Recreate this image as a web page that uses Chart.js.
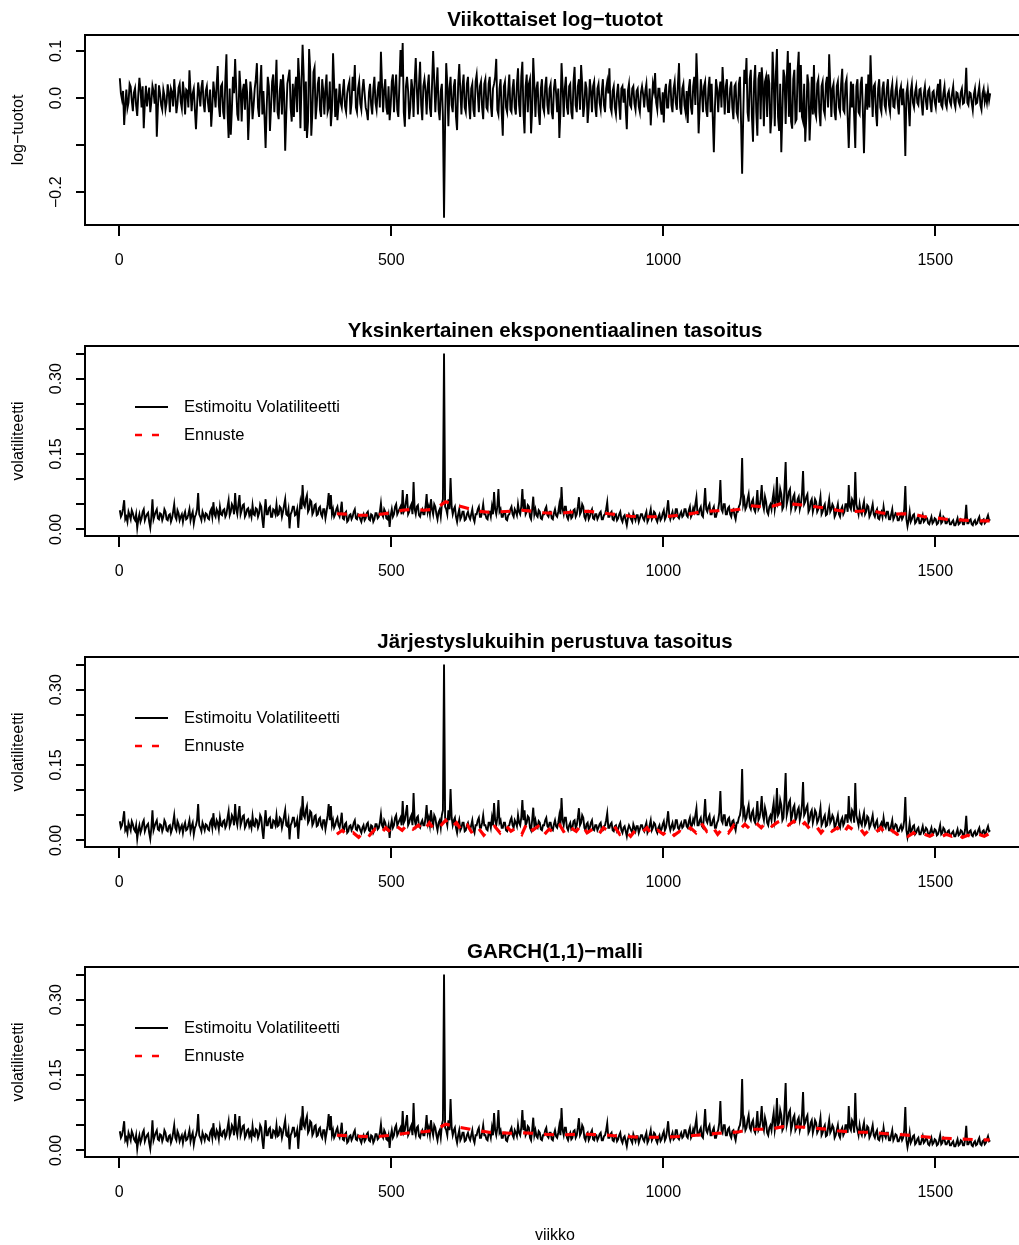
<!DOCTYPE html>
<html><head><meta charset="utf-8">
<script src="https://cdn.jsdelivr.net/npm/chart.js@4/dist/chart.umd.min.js"></script>
<style>
html,body{margin:0;padding:0;background:#fff;overflow:hidden;width:1019px;height:1245px;}
.p{position:absolute;left:0;}
canvas{display:block;}
</style></head><body>
<div class="p" style="top:0px"><canvas id="c1" width="1030" height="311" style="width:1030px;height:311px"></canvas></div>
<div class="p" style="top:311px"><canvas id="c2" width="1030" height="311" style="width:1030px;height:311px"></canvas></div>
<div class="p" style="top:622px"><canvas id="c3" width="1030" height="311" style="width:1030px;height:311px"></canvas></div>
<div class="p" style="top:932px"><canvas id="c4" width="1030" height="313" style="width:1030px;height:313px"></canvas></div>
<script>
// ---------- data (one value every 2 weeks) ----------
const WEEK_START = 1;
const WEEK_STEP = 2;
const logReturns = [
 0.042,0.010,-0.003,0.015,-0.057,-0.015,0.018,-0.022,-0.010,0.030,0.024,-0.005,-0.028,0.012,0.021,-0.016,-0.038,0.008,0.043,0.018,-0.020,0.025,-0.064,-0.010,0.026,-0.018,0.005,0.022,-0.030,-0.008,0.026,0.014,-0.012,0.030,-0.082,-0.020,0.027,0.010,-0.015,-0.025,
 0.018,0.005,-0.025,-0.010,0.029,0.012,-0.030,0.020,0.012,-0.018,0.040,0.008,-0.032,-0.012,0.022,0.030,-0.008,-0.022,0.035,0.010,-0.035,0.018,0.015,-0.020,0.059,0.015,-0.028,0.010,0.020,-0.025,-0.066,-0.015,0.033,0.012,-0.018,0.022,0.038,-0.012,-0.030,0.015,
 0.025,-0.010,-0.030,0.018,-0.061,-0.020,0.035,0.010,-0.020,0.028,0.068,-0.015,-0.040,0.025,0.030,-0.030,-0.045,0.040,0.093,-0.030,-0.085,0.020,-0.078,-0.025,0.045,0.010,0.083,0.020,-0.035,-0.048,0.058,0.020,-0.050,0.015,0.030,-0.025,0.040,0.012,-0.089,-0.030,
 0.035,0.010,-0.045,-0.015,0.020,0.040,0.074,-0.020,-0.040,0.025,0.070,-0.035,0.015,-0.040,-0.106,-0.020,0.045,0.025,-0.070,-0.020,0.035,0.050,-0.030,0.020,0.081,-0.030,-0.045,0.015,0.040,-0.035,0.050,0.010,-0.112,-0.035,0.030,0.045,0.060,-0.020,-0.050,0.030,
 -0.040,0.020,0.045,-0.030,0.085,0.040,-0.064,0.030,0.113,0.050,-0.070,0.035,-0.085,-0.050,0.104,0.060,-0.080,-0.030,0.055,0.065,-0.045,-0.015,0.030,0.045,-0.025,-0.040,0.040,0.015,-0.035,0.020,0.050,-0.030,-0.020,0.035,-0.060,-0.025,0.095,0.030,-0.040,0.020,
 -0.047,-0.015,0.030,-0.010,-0.020,0.015,0.040,-0.018,-0.030,0.010,0.025,0.035,-0.035,-0.010,0.045,0.015,0.070,-0.020,-0.030,0.020,0.035,-0.012,-0.025,0.018,0.040,0.010,-0.020,-0.030,-0.047,0.012,0.030,-0.015,-0.035,0.020,0.045,-0.010,-0.025,0.015,0.035,-0.020,
 0.098,0.030,-0.030,0.018,0.040,-0.020,-0.035,0.025,-0.047,-0.015,0.035,0.050,-0.030,0.020,0.050,-0.025,-0.040,0.030,0.102,0.045,0.117,-0.030,-0.061,0.025,0.045,0.015,-0.045,-0.020,0.040,0.020,-0.040,0.035,0.085,0.020,-0.035,0.030,0.077,-0.015,-0.047,0.025,
 0.040,0.015,-0.035,0.025,0.050,-0.020,-0.040,0.030,0.100,0.040,-0.030,0.020,0.065,-0.025,-0.047,0.015,0.030,-0.040,-0.254,-0.050,0.074,0.030,-0.060,0.020,0.045,-0.015,-0.030,0.025,0.040,-0.040,-0.068,0.030,0.072,0.015,-0.035,0.025,0.050,-0.020,-0.030,0.030,
 0.045,-0.015,-0.045,0.020,0.030,-0.025,-0.040,0.035,0.050,0.010,-0.030,0.025,0.035,-0.020,-0.045,0.030,0.040,-0.020,-0.025,0.030,0.045,-0.015,-0.040,0.020,0.030,0.045,0.083,-0.025,-0.035,0.020,0.040,-0.030,-0.080,0.025,0.035,-0.020,-0.030,0.015,0.050,-0.025,
 -0.030,0.020,0.040,-0.020,-0.035,0.030,0.063,-0.015,-0.040,0.045,0.077,-0.030,-0.075,0.025,0.050,-0.030,0.030,0.040,-0.075,-0.025,0.085,0.030,-0.040,0.020,0.035,-0.030,-0.057,0.020,0.040,-0.020,-0.030,0.025,0.045,-0.015,-0.035,0.020,0.030,-0.030,-0.045,0.020,
 0.040,0.010,-0.030,0.020,-0.085,-0.030,0.074,0.025,-0.040,0.020,0.045,-0.020,-0.035,0.025,0.030,-0.030,-0.045,0.035,0.066,-0.015,-0.030,0.025,0.040,-0.025,0.070,0.030,-0.040,-0.015,0.035,0.020,-0.053,-0.020,0.040,0.015,-0.030,0.025,0.035,-0.020,-0.040,0.020,
 0.030,-0.010,-0.025,0.015,0.040,-0.015,-0.030,0.020,0.035,0.010,0.063,-0.020,-0.030,0.015,0.025,-0.020,-0.035,0.010,0.030,-0.015,-0.046,0.020,0.025,-0.010,0.020,-0.025,-0.066,0.015,0.030,-0.015,-0.020,0.020,0.025,-0.012,-0.025,0.015,0.020,-0.018,-0.030,0.012,
 0.025,0.008,-0.020,0.015,0.030,-0.015,-0.030,0.020,-0.058,-0.010,0.030,0.015,0.053,-0.010,-0.025,0.020,0.020,-0.018,-0.035,0.012,-0.052,0.015,0.030,-0.020,-0.020,0.025,0.040,-0.015,-0.030,0.020,0.035,-0.010,-0.025,0.030,0.074,-0.020,-0.035,0.020,0.030,-0.015,
 -0.030,0.015,-0.053,0.020,0.040,-0.020,-0.035,0.025,0.045,-0.015,0.095,0.030,-0.075,-0.020,0.040,0.015,-0.030,0.025,0.035,-0.025,-0.040,0.020,0.045,-0.030,0.030,-0.040,-0.115,-0.020,0.040,0.020,-0.030,0.015,0.035,-0.020,0.066,0.020,-0.035,0.025,0.040,-0.030,
 -0.030,0.020,0.035,-0.020,-0.045,0.025,0.030,-0.030,-0.040,0.030,0.045,-0.050,-0.161,-0.040,0.060,0.030,0.085,-0.030,-0.050,0.040,0.060,-0.040,-0.093,0.035,0.070,-0.030,-0.080,0.040,0.055,-0.045,0.065,0.030,-0.060,0.035,0.045,-0.040,0.050,0.030,-0.075,-0.040,
 0.098,0.040,-0.060,0.050,0.104,-0.040,-0.070,0.030,-0.115,-0.030,0.060,0.045,-0.055,0.040,0.100,-0.040,0.075,-0.050,-0.065,0.040,0.060,-0.050,-0.045,0.060,0.098,-0.030,0.070,-0.040,-0.050,0.030,-0.093,-0.040,0.050,0.030,-0.090,-0.030,0.045,-0.035,0.070,-0.030,
 -0.040,0.030,0.040,-0.030,-0.060,0.025,0.035,-0.025,-0.035,0.030,0.045,-0.020,0.093,0.030,-0.040,0.020,0.030,-0.030,-0.047,0.025,0.035,-0.020,-0.030,0.030,0.062,-0.025,-0.030,0.030,0.040,-0.040,-0.106,-0.030,0.035,-0.020,0.030,-0.040,-0.106,0.025,0.040,-0.030,
 -0.035,0.030,0.045,-0.030,-0.117,-0.020,0.030,-0.025,0.050,-0.020,0.091,0.020,-0.040,0.025,0.030,-0.030,-0.060,0.020,0.040,-0.020,-0.030,0.020,0.035,-0.015,-0.025,0.020,0.040,-0.015,-0.030,0.015,0.030,-0.018,-0.020,0.015,0.030,-0.012,-0.035,0.015,0.025,-0.015,
 0.020,-0.020,-0.123,0.010,0.025,-0.015,-0.060,0.015,0.030,-0.010,-0.020,0.012,0.025,-0.010,-0.015,0.018,0.020,-0.012,-0.037,0.010,0.025,-0.008,-0.025,0.015,0.020,-0.010,-0.030,0.012,0.015,-0.008,-0.020,0.012,0.030,-0.010,0.040,-0.015,-0.020,0.010,0.025,-0.012,
 -0.020,0.008,0.015,-0.008,-0.015,0.010,0.025,-0.010,-0.020,0.012,0.010,-0.008,-0.015,0.012,0.020,-0.012,-0.010,0.015,0.064,-0.010,-0.015,0.012,0.010,-0.010,-0.026,0.008,0.020,-0.012,-0.010,0.010,0.025,-0.015,-0.025,0.010,0.020,-0.008,0.005,-0.010,0.015,-0.005,
 0.010
];
const volatility = [
 0.038,0.025,0.030,0.042,0.058,0.020,0.025,0.015,0.035,0.028,0.020,0.038,0.032,0.022,0.018,0.030,0.003,0.020,0.030,0.015,0.022,0.035,0.040,0.018,0.025,0.030,0.033,0.015,0.003,0.025,0.060,0.020,0.028,0.035,0.040,0.022,0.020,0.032,0.030,0.018,
 0.025,0.040,0.035,0.020,0.018,0.028,0.030,0.015,0.022,0.035,0.050,0.025,0.020,0.038,0.032,0.018,0.025,0.030,0.015,0.028,0.035,0.020,0.022,0.030,0.040,0.018,0.028,0.035,0.012,0.025,0.030,0.040,0.072,0.030,0.025,0.018,0.035,0.028,0.020,0.032,
 0.030,0.022,0.020,0.035,0.040,0.025,0.054,0.030,0.025,0.040,0.035,0.022,0.045,0.030,0.028,0.038,0.040,0.025,0.030,0.045,0.058,0.028,0.035,0.050,0.045,0.030,0.072,0.040,0.030,0.050,0.068,0.030,0.038,0.048,0.050,0.025,0.030,0.040,0.042,0.028,
 0.035,0.025,0.048,0.030,0.028,0.042,0.040,0.025,0.032,0.050,0.045,0.020,0.003,0.035,0.060,0.030,0.030,0.042,0.045,0.025,0.025,0.040,0.038,0.030,0.050,0.028,0.030,0.045,0.042,0.025,0.035,0.048,0.060,0.030,0.028,0.040,0.002,0.030,0.035,0.045,
 0.045,0.028,0.030,0.040,0.003,0.035,0.055,0.040,0.088,0.050,0.045,0.060,0.068,0.035,0.040,0.058,0.055,0.030,0.035,0.048,0.050,0.028,0.030,0.042,0.045,0.030,0.025,0.040,0.040,0.022,0.035,0.050,0.072,0.040,0.068,0.030,0.040,0.025,0.030,0.040,
 0.045,0.030,0.025,0.038,0.055,0.022,0.020,0.032,0.035,0.015,0.018,0.028,0.030,0.020,0.025,0.035,0.040,0.022,0.020,0.030,0.028,0.020,0.015,0.025,0.030,0.018,0.022,0.032,0.035,0.020,0.018,0.030,0.028,0.015,0.020,0.032,0.032,0.022,0.025,0.035,
 0.052,0.030,0.025,0.040,0.035,0.022,0.020,0.030,0.005,0.028,0.040,0.025,0.030,0.045,0.050,0.030,0.035,0.040,0.045,0.030,0.078,0.035,0.040,0.055,0.070,0.030,0.035,0.045,0.050,0.030,0.094,0.040,0.030,0.045,0.048,0.028,0.025,0.035,0.040,0.030,
 0.030,0.045,0.070,0.035,0.045,0.030,0.060,0.040,0.030,0.050,0.045,0.030,0.020,0.035,0.040,0.025,0.050,0.060,0.350,0.045,0.040,0.030,0.060,0.040,0.102,0.045,0.030,0.040,0.045,0.025,0.015,0.030,0.040,0.020,0.025,0.035,0.035,0.018,0.020,0.030,
 0.035,0.025,0.020,0.030,0.040,0.022,0.015,0.030,0.030,0.040,0.045,0.025,0.025,0.035,0.050,0.030,0.030,0.022,0.020,0.035,0.035,0.025,0.045,0.030,0.074,0.040,0.030,0.045,0.080,0.035,0.040,0.025,0.025,0.035,0.035,0.020,0.018,0.028,0.030,0.040,
 0.045,0.030,0.025,0.040,0.035,0.028,0.050,0.035,0.030,0.045,0.080,0.040,0.060,0.030,0.035,0.048,0.045,0.025,0.020,0.040,0.065,0.030,0.040,0.028,0.025,0.038,0.035,0.022,0.020,0.030,0.030,0.040,0.045,0.028,0.025,0.035,0.035,0.022,0.020,0.032,
 0.040,0.028,0.025,0.035,0.050,0.030,0.084,0.040,0.030,0.045,0.045,0.025,0.020,0.030,0.035,0.022,0.025,0.038,0.040,0.025,0.030,0.045,0.064,0.030,0.035,0.050,0.045,0.025,0.020,0.032,0.035,0.020,0.025,0.035,0.040,0.022,0.020,0.030,0.030,0.020,
 0.025,0.032,0.035,0.020,0.020,0.028,0.030,0.040,0.054,0.025,0.025,0.032,0.035,0.020,0.018,0.028,0.030,0.018,0.022,0.030,0.035,0.020,0.015,0.025,0.028,0.018,0.008,0.022,0.030,0.025,0.020,0.015,0.032,0.025,0.018,0.028,0.028,0.015,0.022,0.030,
 0.030,0.022,0.018,0.028,0.035,0.015,0.020,0.030,0.040,0.020,0.025,0.035,0.032,0.020,0.015,0.025,0.030,0.018,0.022,0.032,0.038,0.020,0.025,0.040,0.058,0.030,0.020,0.028,0.035,0.022,0.025,0.040,0.040,0.025,0.022,0.030,0.035,0.025,0.028,0.040,
 0.040,0.028,0.025,0.038,0.045,0.025,0.030,0.042,0.035,0.050,0.064,0.030,0.030,0.040,0.045,0.028,0.025,0.050,0.082,0.040,0.035,0.045,0.050,0.030,0.030,0.040,0.045,0.025,0.025,0.035,0.040,0.055,0.098,0.040,0.035,0.050,0.050,0.030,0.030,0.042,
 0.045,0.030,0.025,0.038,0.040,0.028,0.020,0.035,0.035,0.045,0.050,0.065,0.142,0.050,0.060,0.040,0.045,0.060,0.070,0.045,0.040,0.055,0.060,0.040,0.035,0.050,0.078,0.040,0.045,0.060,0.088,0.050,0.040,0.065,0.055,0.035,0.030,0.045,0.050,0.040,
 0.060,0.075,0.040,0.055,0.104,0.050,0.055,0.080,0.070,0.040,0.045,0.085,0.134,0.050,0.060,0.075,0.080,0.040,0.050,0.065,0.070,0.040,0.045,0.060,0.065,0.040,0.050,0.070,0.116,0.050,0.055,0.065,0.070,0.035,0.040,0.055,0.060,0.035,0.045,0.060,
 0.055,0.035,0.040,0.050,0.065,0.030,0.035,0.045,0.050,0.028,0.030,0.045,0.060,0.035,0.040,0.050,0.045,0.025,0.030,0.040,0.050,0.030,0.025,0.040,0.045,0.030,0.035,0.050,0.050,0.035,0.088,0.045,0.040,0.060,0.055,0.035,0.114,0.050,0.040,0.030,
 0.050,0.035,0.030,0.045,0.055,0.030,0.035,0.048,0.045,0.025,0.030,0.040,0.050,0.030,0.025,0.035,0.040,0.022,0.020,0.030,0.035,0.025,0.045,0.030,0.025,0.035,0.035,0.020,0.020,0.030,0.040,0.020,0.025,0.032,0.030,0.018,0.018,0.025,0.030,0.020,
 0.025,0.040,0.086,0.020,0.006,0.018,0.035,0.015,0.020,0.028,0.030,0.012,0.015,0.022,0.025,0.012,0.012,0.020,0.028,0.015,0.018,0.025,0.022,0.012,0.010,0.018,0.025,0.012,0.015,0.022,0.020,0.010,0.012,0.020,0.030,0.012,0.015,0.025,0.022,0.012,
 0.012,0.018,0.020,0.010,0.010,0.015,0.018,0.008,0.008,0.015,0.022,0.010,0.012,0.020,0.018,0.010,0.010,0.022,0.049,0.012,0.012,0.018,0.020,0.010,0.008,0.015,0.018,0.010,0.012,0.020,0.025,0.012,0.010,0.018,0.020,0.012,0.015,0.022,0.028,0.018,
 0.020
];
// forecasts start at week 400
const FC_START = 400;
const FC_STEP_SMOOTH = 20;
const FC_STEP_RANK = 10;
const forecastEWMA = [
 0.031,0.030,0.028,0.028,0.030,0.033,0.038,0.040,0.038,0.040,0.055,0.048,0.042,0.036,0.034,0.035,0.036,0.038,0.036,0.033,
 0.032,0.033,0.035,0.036,0.034,0.031,0.029,0.026,0.025,0.025,0.025,0.027,0.029,0.033,0.036,0.037,0.037,0.040,0.047,0.045,
 0.046,0.052,0.050,0.048,0.045,0.042,0.038,0.035,0.036,0.038,0.033,0.030,0.031,0.030,0.025,0.023,0.020,0.019,0.018,0.017,
 0.017
];
const forecastRank = [
 0.012,0.020,0.008,0.015,0.006,0.018,0.010,0.022,0.012,0.025,0.015,0.028,0.020,0.032,0.022,0.030,0.018,0.035,0.020,0.028,
 0.040,0.025,0.035,0.018,0.030,0.012,0.025,0.010,0.022,0.028,0.015,0.030,0.018,0.025,0.012,0.036,0.020,0.028,0.010,0.022,
 0.015,0.030,0.012,0.025,0.018,0.032,0.015,0.022,0.010,0.025,0.018,0.028,0.012,0.020,0.008,0.022,0.015,0.025,0.010,0.020,
 0.012,0.022,0.010,0.018,0.012,0.025,0.015,0.034,0.018,0.028,0.012,0.025,0.015,0.030,0.020,0.032,0.022,0.035,0.025,0.038,
 0.028,0.036,0.041,0.030,0.038,0.025,0.035,0.022,0.030,0.015,0.028,0.018,0.025,0.012,0.028,0.020,0.026,0.012,0.022,0.015,
 0.025,0.010,0.020,0.012,0.018,0.008,0.015,0.006,0.012,0.008,0.014,0.006,0.012,0.008,0.015,0.006,0.010,0.005,0.012,0.008,
 0.014
];
const forecastGARCH = [
 0.030,0.029,0.028,0.027,0.028,0.030,0.033,0.036,0.037,0.040,0.052,0.047,0.043,0.039,0.036,0.035,0.034,0.035,0.034,0.032,
 0.031,0.031,0.032,0.032,0.031,0.030,0.028,0.027,0.026,0.026,0.026,0.027,0.028,0.030,0.032,0.034,0.035,0.037,0.042,0.042,
 0.043,0.047,0.047,0.046,0.044,0.042,0.039,0.037,0.036,0.036,0.034,0.032,0.031,0.029,0.027,0.025,0.024,0.023,0.022,0.021,
 0.021
];
const xTicks = [0, 500, 1000, 1500];
const retTicks = [-0.2, -0.1, 0.0, 0.1];
const retTickLabels = ['\u22120.2', '', '0.0', '0.1'];
const volTicks = [0, 0.05, 0.10, 0.15, 0.20, 0.25, 0.30, 0.35];
const volTickLabels = ['0.00', '', '', '0.15', '', '', '0.30', ''];
const panelTitles = ['Viikottaiset log\u2212tuotot', 'Yksinkertainen eksponentiaalinen tasoitus',
  'J\u00e4rjestyslukuihin perustuva tasoitus', 'GARCH(1,1)\u2212malli'];
const legendLabels = ['Estimoitu Volatiliteetti', 'Ennuste'];

// ---------- helpers ----------
const FONT = '"Liberation Sans", Arial, Helvetica, sans-serif';
function toXY(values, start, step) { return values.map((v, i) => ({x: start + i * step, y: v})); }

const rStyle = {
  id: 'rstyle',
  afterDraw(chart, args, o) {
    const {ctx, chartArea: a, scales} = chart;
    ctx.save();
    ctx.strokeStyle = '#000'; ctx.lineWidth = 2;
    ctx.strokeRect(a.left, a.top, a.right - a.left, a.bottom - a.top);
    ctx.fillStyle = '#000';
    ctx.font = '16px ' + FONT;
    ctx.textAlign = 'center'; ctx.textBaseline = 'middle';
    o.yTicks.forEach((v, i) => {
      const lab = o.yLabels[i];
      if (!lab) return;
      const y = scales.y.getPixelForValue(v);
      ctx.save(); ctx.translate(57, y); ctx.rotate(-Math.PI / 2); ctx.fillText(lab, 0, 0); ctx.restore();
    });
    ctx.font = 'bold 20.5px ' + FONT;
    ctx.fillText(o.title, (a.left + a.right) / 2, 20);
    if (o.legend) {
      const y1 = a.top + 61, y2 = a.top + 89;
      ctx.lineWidth = 2; ctx.strokeStyle = '#000'; ctx.setLineDash([]);
      ctx.beginPath(); ctx.moveTo(135, y1); ctx.lineTo(168, y1); ctx.stroke();
      ctx.strokeStyle = '#ff0000'; ctx.lineWidth = 2.5; ctx.setLineDash([7, 10]);
      ctx.beginPath(); ctx.moveTo(135, y2); ctx.lineTo(168, y2); ctx.stroke();
      ctx.setLineDash([]);
      ctx.font = '16.5px ' + FONT; ctx.textAlign = 'left';
      ctx.fillText(legendLabels[0], 184, y1);
      ctx.fillText(legendLabels[1], 184, y2);
    }
    ctx.restore();
  }
};

function makePanel(id, datasets, yMin, yMax, yTicks, yLabels, title, yTitle, legend, xTitle, axisH) {
  return new Chart(document.getElementById(id), {
    type: 'line',
    data: {datasets},
    plugins: [rStyle],
    options: {
      responsive: false, animation: false, events: [],
      layout: {padding: {top: 35, right: 5, left: 0, bottom: 0}},
      elements: {point: {radius: 0}, line: {tension: 0}},
      plugins: {legend: {display: false}, tooltip: {enabled: false}, title: {display: false},
        rstyle: {title, yTicks, yLabels, legend}},
      scales: {
        x: {
          type: 'linear', min: -63, max: 1665,
          afterBuildTicks: s => { s.ticks = xTicks.map(v => ({value: v})); },
          afterFit: s => { s.height = axisH; },
          ticks: {autoSkip: false, maxRotation: 0, minRotation: 0, padding: 15, color: '#000',
            font: {family: FONT, size: 16}, callback: v => String(v)},
          grid: {drawOnChartArea: false, drawTicks: true, tickLength: 11, color: '#000', lineWidth: 2},
          border: {display: true, color: '#000', width: 2},
          title: {display: !!xTitle, text: xTitle || '', color: '#000', font: {family: FONT, size: 16},
            padding: {top: 0, bottom: 0}}
        },
        y: {
          type: 'linear', min: yMin, max: yMax,
          afterBuildTicks: s => { s.ticks = yTicks.map(v => ({value: v})); },
          afterFit: s => { s.width = 85; },
          ticks: {display: false},
          grid: {drawOnChartArea: false, drawTicks: true, tickLength: 9, color: '#000', lineWidth: 2},
          border: {display: true, color: '#000', width: 2},
          title: {display: true, text: yTitle, color: '#000', font: {family: FONT, size: 16},
            padding: {top: 9, bottom: 0}}
        }
      }
    }
  });
}

const blackLine = (vals, start, step) => ({
  data: toXY(vals, start, step), borderColor: '#000', borderWidth: 1.9, fill: false, order: 2
});
const redLine = (vals, start, step) => ({
  data: toXY(vals, start, step), borderColor: '#ff0000', borderWidth: 3.2, borderDash: [10, 11],
  fill: false, order: 1
});

const RET_MIN = -0.2696, RET_MAX = 0.1338;
const VOL_MIN = -0.0133, VOL_MAX = 0.3651;

makePanel('c1', [blackLine(logReturns, WEEK_START, WEEK_STEP)], RET_MIN, RET_MAX, retTicks, retTickLabels,
  panelTitles[0], 'log\u2212tuotot', false, null, 86);
makePanel('c2', [blackLine(volatility, WEEK_START, WEEK_STEP), redLine(forecastEWMA, FC_START, FC_STEP_SMOOTH)],
  VOL_MIN, VOL_MAX, volTicks, volTickLabels, panelTitles[1], 'volatiliteetti', true, null, 86);
makePanel('c3', [blackLine(volatility, WEEK_START, WEEK_STEP), redLine(forecastRank, FC_START, FC_STEP_RANK)],
  VOL_MIN, VOL_MAX, volTicks, volTickLabels, panelTitles[2], 'volatiliteetti', true, null, 86);
makePanel('c4', [blackLine(volatility, WEEK_START, WEEK_STEP), redLine(forecastGARCH, FC_START, FC_STEP_SMOOTH)],
  VOL_MIN, VOL_MAX, volTicks, volTickLabels, panelTitles[3], 'volatiliteetti', true, 'viikko', 88);
</script>
</body></html>
